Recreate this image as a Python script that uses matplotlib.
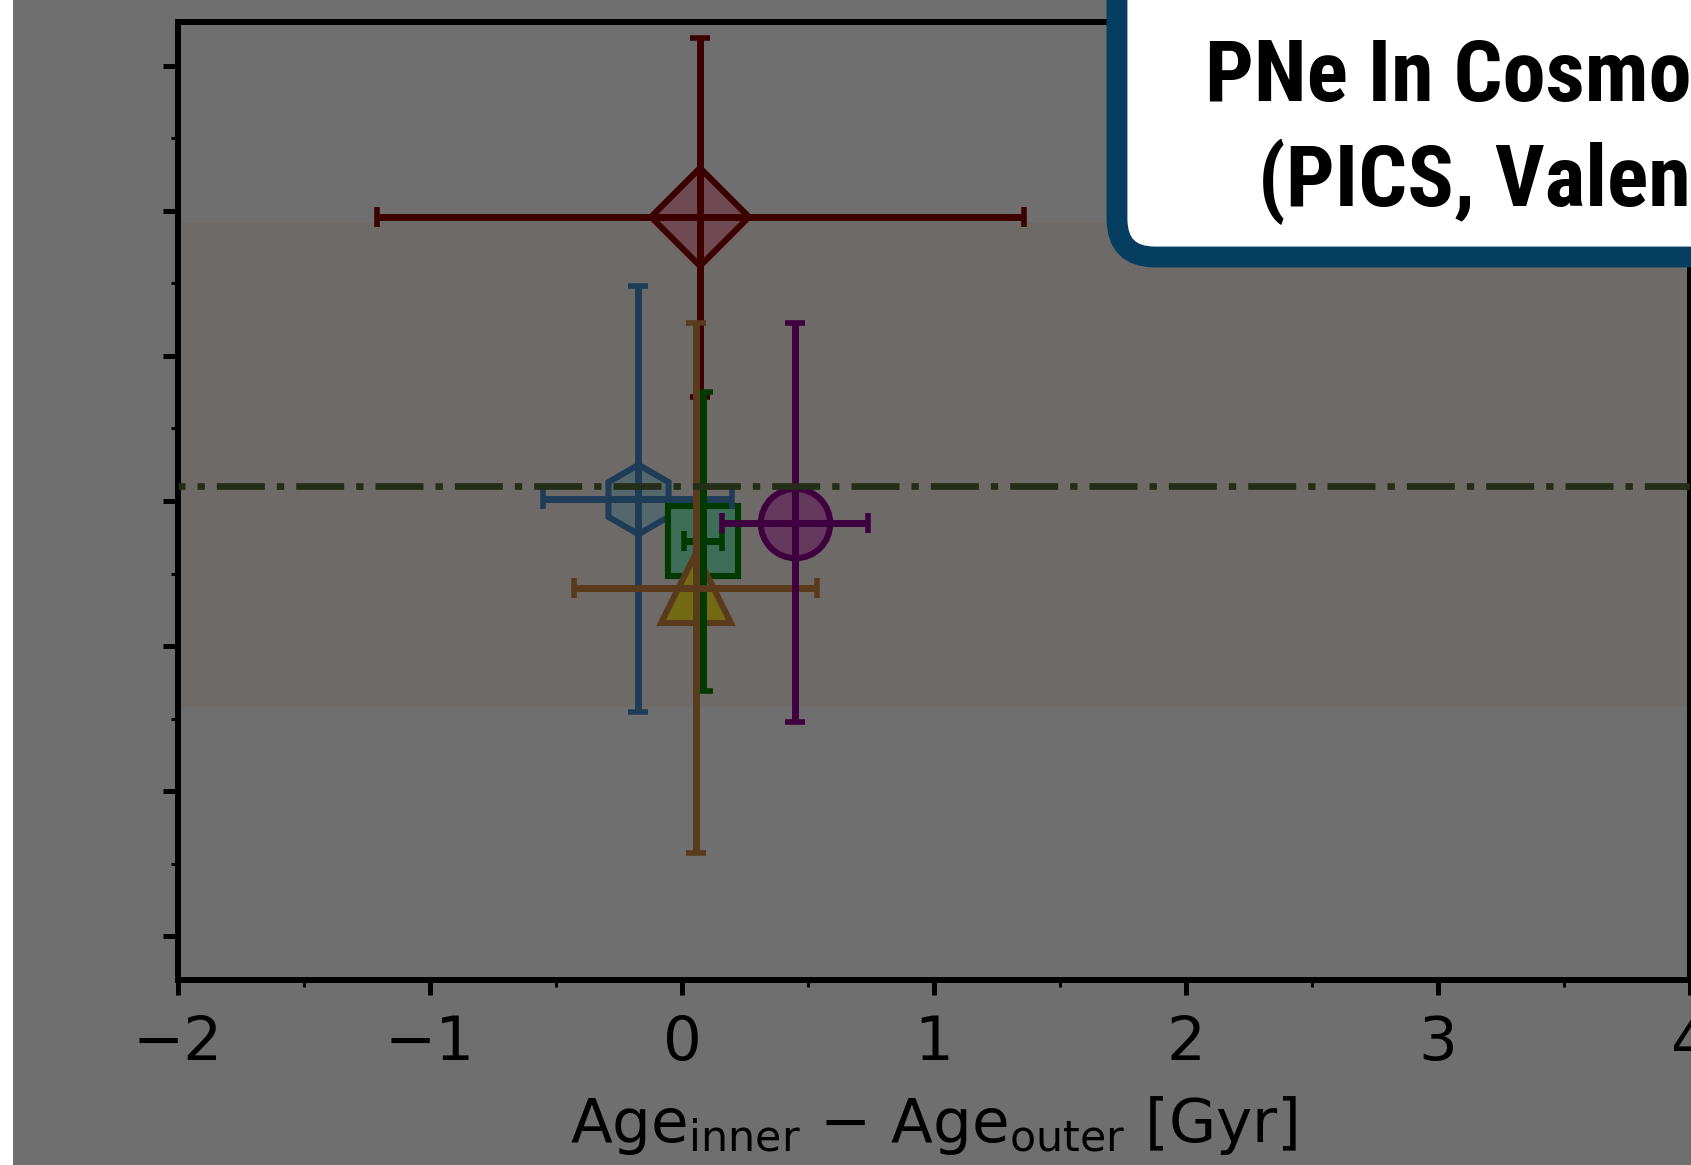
import matplotlib
matplotlib.use("Agg")
import matplotlib.pyplot as plt
from matplotlib.patches import FancyBboxPatch, Rectangle
from matplotlib.transforms import IdentityTransform
from matplotlib.ticker import MultipleLocator
import logging
logging.getLogger("matplotlib.font_manager").setLevel(logging.ERROR)

# ---------------- data ----------------
markers = ["D", "h", "s", "^", "o"]
x_vals = [0.073, -0.176, 0.083, 0.054, 0.448]
y_vals = [1.955, 0.014, -0.278, -0.598, -0.149]
x_errs = [1.285, 0.375, 0.074, 0.483, 0.289]
y_errs = [1.237, 1.468, 1.028, 1.824, 1.372]
edge_colors = ["#3c0000", "#1f3c57", "#003a00", "#5a3a1c", "#3f003f"]
face_colors = ["#704a52", "#53676c", "#3e6e58", "#736a14", "#65385e"]

band_low, band_high = -1.419, 1.919
ref_line = 0.10

x_ticks = [-2, -1, 0, 1, 2, 3, 4]
x_limits = (-2, 4)
y_limits = (-3.30, 3.30)

title_lines = ["PNe In Cosmological Simulations", "(PICS, Valenzuela et al. 2025)"]
xlabel_text = "Age$_{\\mathrm{inner}}$ \u2212 Age$_{\\mathrm{outer}}$ [Gyr]"

# ---------------- figure ----------------
W, H, DPI = 1691, 1165, 100
fig = plt.figure(figsize=(W / DPI, H / DPI), dpi=DPI, facecolor="white")
BG = "#6f6f6f"
fig.patches.append(Rectangle((13 / W, 0), 1, 1, transform=fig.transFigure,
                             facecolor=BG, edgecolor="none", zorder=-10))

ax = fig.add_axes([178 / W, 1 - 980 / H, (1690 - 178) / W, (980 - 22) / H])
ax.set_facecolor(BG)
ax.set_xlim(*x_limits)
ax.set_ylim(*y_limits)

# shaded band
ax.axhspan(band_low, band_high, color="#6e6a67", lw=0, zorder=0.5)

# markers
for m, x, y, ec, fc in zip(markers, x_vals, y_vals, edge_colors, face_colors):
    ax.plot([x], [y], linestyle="none", marker=m, markersize=50,
            markerfacecolor=fc, markeredgecolor=ec, markeredgewidth=4.4, zorder=3)

# error bars
for x, y, xe, ye, ec in zip(x_vals, y_vals, x_errs, y_errs, edge_colors):
    ax.errorbar([x], [y], xerr=[xe], yerr=[ye], fmt="none", ecolor=ec,
                elinewidth=5.0, capsize=7.2, capthick=4.0, zorder=4)

# reference dash-dot line
ax.axhline(ref_line, color="#232d17", lw=4.8,
           linestyle=(6.15, (7.2, 1.8, 1.1, 1.8)), zorder=5)

# axes styling
for sp in ax.spines.values():
    sp.set_linewidth(4.3)
    sp.set_color("black")
ax.set_xticks(x_ticks)
ax.xaxis.set_minor_locator(MultipleLocator(0.5))
ax.yaxis.set_major_locator(MultipleLocator(1.0))
ax.yaxis.set_minor_locator(MultipleLocator(0.5))
ax.tick_params(which="major", length=10.5, width=3.6, direction="out",
               labelsize=44, pad=14)
ax.tick_params(which="minor", length=5, width=2.2, direction="out")
ax.tick_params(axis="y", labelleft=False)
ax.set_xticklabels(["\u2212" + str(abs(t)) if t < 0 else str(t) for t in x_ticks],
                   fontfamily="DejaVu Sans")
ax.set_xlabel(xlabel_text, fontsize=44, labelpad=15)

# title box
box = FancyBboxPatch((1117, H - 257), 900, 500,
                     boxstyle="round,pad=0,rounding_size=38",
                     transform=IdentityTransform(), facecolor="white",
                     edgecolor="#053e60", linewidth=15, zorder=20)
fig.patches.append(box)

fam = ["Liberation Sans Narrow", "DejaVu Sans Condensed", "Roboto Condensed",
       "Open Sans Condensed", "Liberation Sans", "DejaVu Sans"]
# fit font size so the visible part of the first line spans the same width
renderer = fig.canvas.get_renderer()
probe = fig.text(0, 0, title_lines[0][:12], fontsize=60, fontweight="bold", family=fam)
w60 = probe.get_window_extent(renderer).width
probe.remove()
fs = 60 * 486 / w60

fig.text(1205 / W, 1 - 101 / H, title_lines[0], fontsize=fs, fontweight="bold",
         family=fam, ha="left", va="baseline", zorder=21)
fig.text(1258 / W, 1 - 206 / H, title_lines[1], fontsize=fs, fontweight="bold",
         family=fam, ha="left", va="baseline", zorder=21)

fig.savefig("out.png", dpi=DPI, facecolor="white")
